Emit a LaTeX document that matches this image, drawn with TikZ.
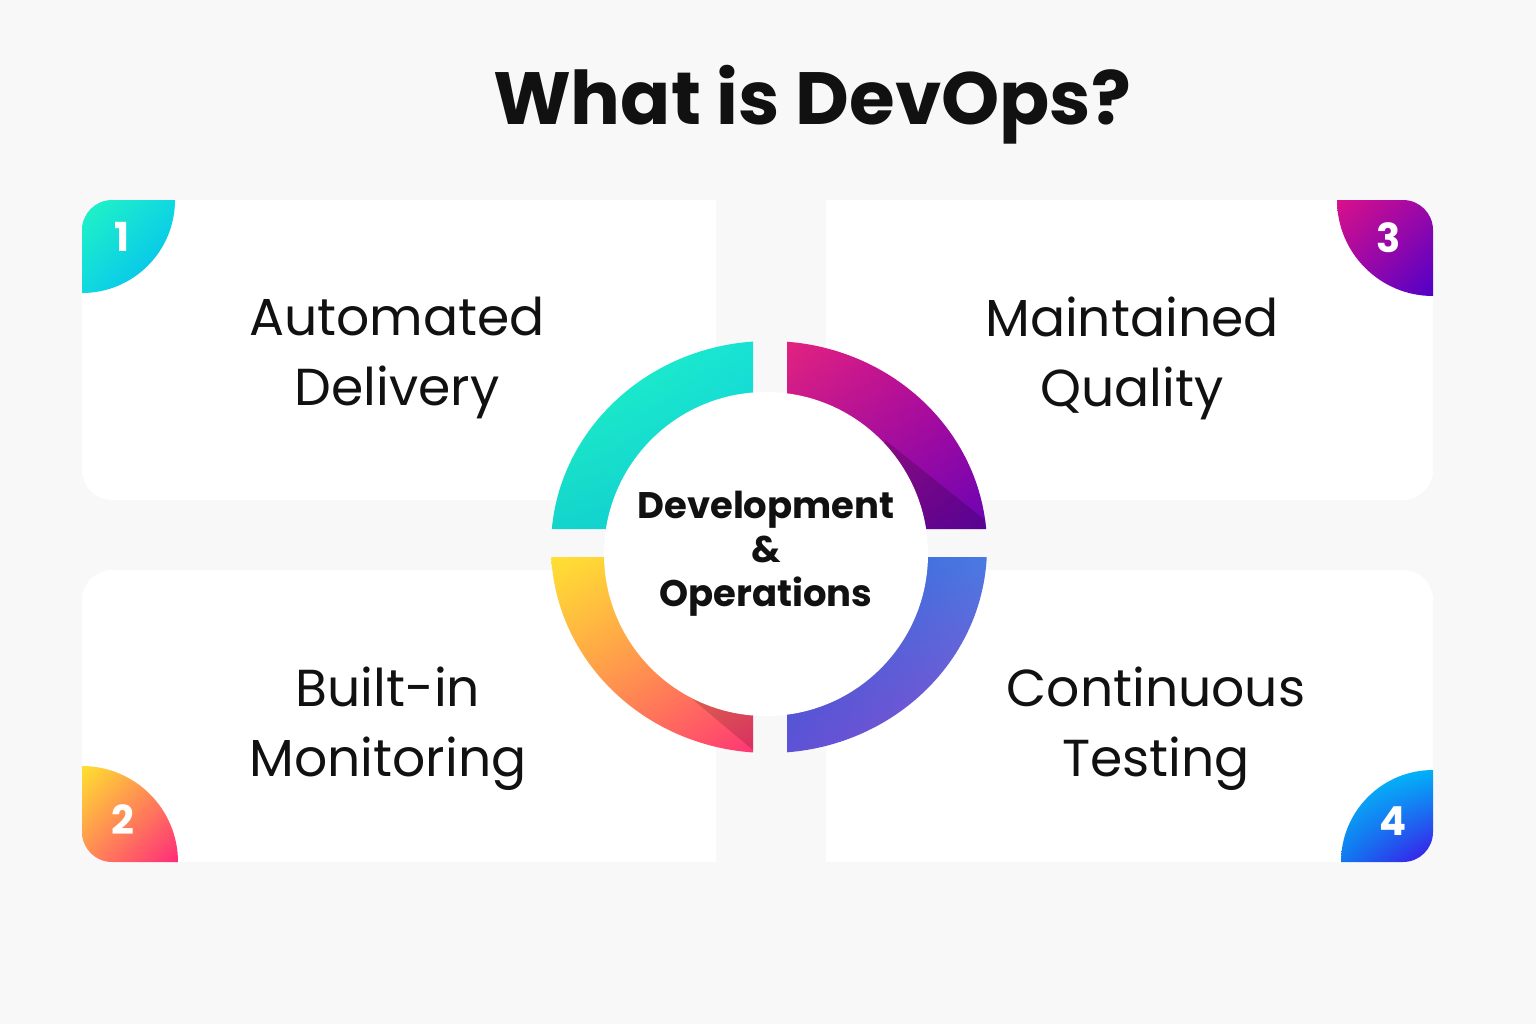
\documentclass[tikz,border=0pt]{standalone}
\usepackage{fontspec}
\setmainfont{Poppins}
\usetikzlibrary{shadings}
\definecolor{bg}{HTML}{F8F8F8}
\definecolor{ink}{HTML}{111111}
% badge colours
\definecolor{bOneA}{HTML}{22F5C2}\definecolor{bOneB}{HTML}{10D8E0}\definecolor{bOneC}{HTML}{00B8F5}
\definecolor{bThreeA}{HTML}{D8108A}\definecolor{bThreeB}{HTML}{9A08A8}\definecolor{bThreeC}{HTML}{5000C8}
\definecolor{bTwoA}{HTML}{FFE030}\definecolor{bTwoB}{HTML}{FF8A55}\definecolor{bTwoC}{HTML}{FF2A7A}
\definecolor{bFourA}{HTML}{00C8F8}\definecolor{bFourB}{HTML}{00B0F8}\definecolor{bFourC}{HTML}{1078F0}\definecolor{bFourD}{HTML}{4010E8}
% ring colours
\definecolor{rTLa}{HTML}{20F8C0}\definecolor{rTLb}{HTML}{18E2D4}\definecolor{rTLc}{HTML}{14D4CC}\definecolor{rTLd}{HTML}{10CCD8}
\definecolor{rTRa}{HTML}{E2237F}\definecolor{rTRb}{HTML}{B4089C}\definecolor{rTRc}{HTML}{A00AA0}\definecolor{rTRd}{HTML}{6A04B4}
\definecolor{rBLa}{HTML}{FFE033}\definecolor{rBLb}{HTML}{FFB540}\definecolor{rBLc}{HTML}{FF8A50}\definecolor{rBLd}{HTML}{FF3575}
\definecolor{rBRa}{HTML}{2F5FD6}\definecolor{rBRb}{HTML}{4A7AE2}\definecolor{rBRc}{HTML}{5E52D6}\definecolor{rBRd}{HTML}{8A4FCF}

\tikzset{
  card/.style={fill=white},
  cardtext/.style={align=center, text=ink, font=\fontsize{26}{35}\selectfont},
  numtext/.style={text=white, font=\bfseries\fontsize{20}{20}\selectfont},
}

\begin{document}
\begin{tikzpicture}[x=0.5pt, y=-0.5pt]
\useasboundingbox[fill=bg] (0,0) rectangle (1536,1024);

\node[text=ink, font=\bfseries\fontsize{37}{37}\selectfont] (title) at (812,105) {What is DevOps?};

% cards
\fill[card, rounded corners=15pt] (82,200) rectangle (716,500);
\fill[card] (400,200) rectangle (716,500);
\fill[card, rounded corners=15pt] (826,200) rectangle (1433,500);
\fill[card] (826,200) rectangle (1100,500);
\fill[card, rounded corners=15pt] (82,570) rectangle (716,862);
\fill[card] (400,570) rectangle (716,862);
\fill[card, rounded corners=15pt] (826,570) rectangle (1433,862);
\fill[card] (826,570) rectangle (1100,862);

% corner badges
\begin{scope}
\clip[rounded corners=15pt] (82,200) rectangle (716,500);
\clip (82,200) circle (93);
\shade[upper left=bOneA, upper right=bOneB, lower left=bOneB, lower right=bOneC] (82,200) rectangle (175,293);
\end{scope}
\begin{scope}
\clip[rounded corners=15pt] (826,200) rectangle (1433,500);
\clip (1433,200) circle (96);
\shade[upper left=bThreeA, upper right=bThreeB, lower left=bThreeB, lower right=bThreeC] (1337,200) rectangle (1433,296);
\end{scope}
\begin{scope}
\clip[rounded corners=15pt] (82,570) rectangle (716,862);
\clip (82,862) circle (96);
\shade[upper left=bTwoA, upper right=bTwoB, lower left=bTwoB, lower right=bTwoC] (82,766) rectangle (178,862);
\end{scope}
\begin{scope}
\clip[rounded corners=15pt] (826,570) rectangle (1433,862);
\clip (1433,862) circle (92);
\shade[upper left=bFourA, upper right=bFourB, lower left=bFourC, lower right=bFourD] (1341,770) rectangle (1433,862);
\end{scope}

\node[numtext] (n1) at (122,237) {1};
\node[numtext] (n3) at (1389,238) {3};
\node[numtext] (n2) at (123,820) {2};
\node[numtext] (n4) at (1393,821) {4};

% card texts
\node[cardtext] (t1) at (397,358) {Automated\\Delivery};
\node[cardtext] (t3) at (1132,358) {Maintained\\Quality};
\node[cardtext] (t2) at (388,729) {Built-in\\Monitoring};
\node[cardtext] (t4) at (1156,729) {Continuous\\Testing};

% ring segments
\begin{scope}
\clip[rounded corners=5pt] (540,330) rectangle (753,529);
\clip (769,547) ellipse [x radius=218, y radius=206];
\shade[upper left=rTLa, upper right=rTLb, lower left=rTLc, lower right=rTLd] (551,341) rectangle (753,529);
\end{scope}
\begin{scope}
\clip[rounded corners=5pt] (787,330) rectangle (1000,529);
\clip (769,547) ellipse [x radius=218, y radius=206];
\shade[upper left=rTRa, upper right=rTRb, lower left=rTRc, lower right=rTRd] (787,341) rectangle (987,529);
\fill[black, opacity=0.18] (885,440) -- (1000,532) -- (880,532) -- cycle;
\end{scope}
\begin{scope}
\clip[rounded corners=5pt] (540,557) rectangle (753,770);
\clip (769,547) ellipse [x radius=218, y radius=206];
\shade[upper left=rBLa, upper right=rBLb, lower left=rBLc, lower right=rBLd] (551,557) rectangle (753,753);
\fill[black, opacity=0.15] (665,676) -- (760,756) -- (760,676) -- cycle;
\end{scope}
\begin{scope}
\clip[rounded corners=5pt] (787,557) rectangle (1000,770);
\clip (769,547) ellipse [x radius=218, y radius=206];
\shade[upper left=rBRa, upper right=rBRb, lower left=rBRc, lower right=rBRd] (787,557) rectangle (987,753);
\end{scope}

% centre
\node[circle, fill=white, minimum size=162pt, inner sep=0pt, align=center, text=ink,
  font=\bfseries\fontsize{18.5}{22}\selectfont] (core) at (766,554) {Development\\\&\\Operations};
\end{tikzpicture}
\end{document}
